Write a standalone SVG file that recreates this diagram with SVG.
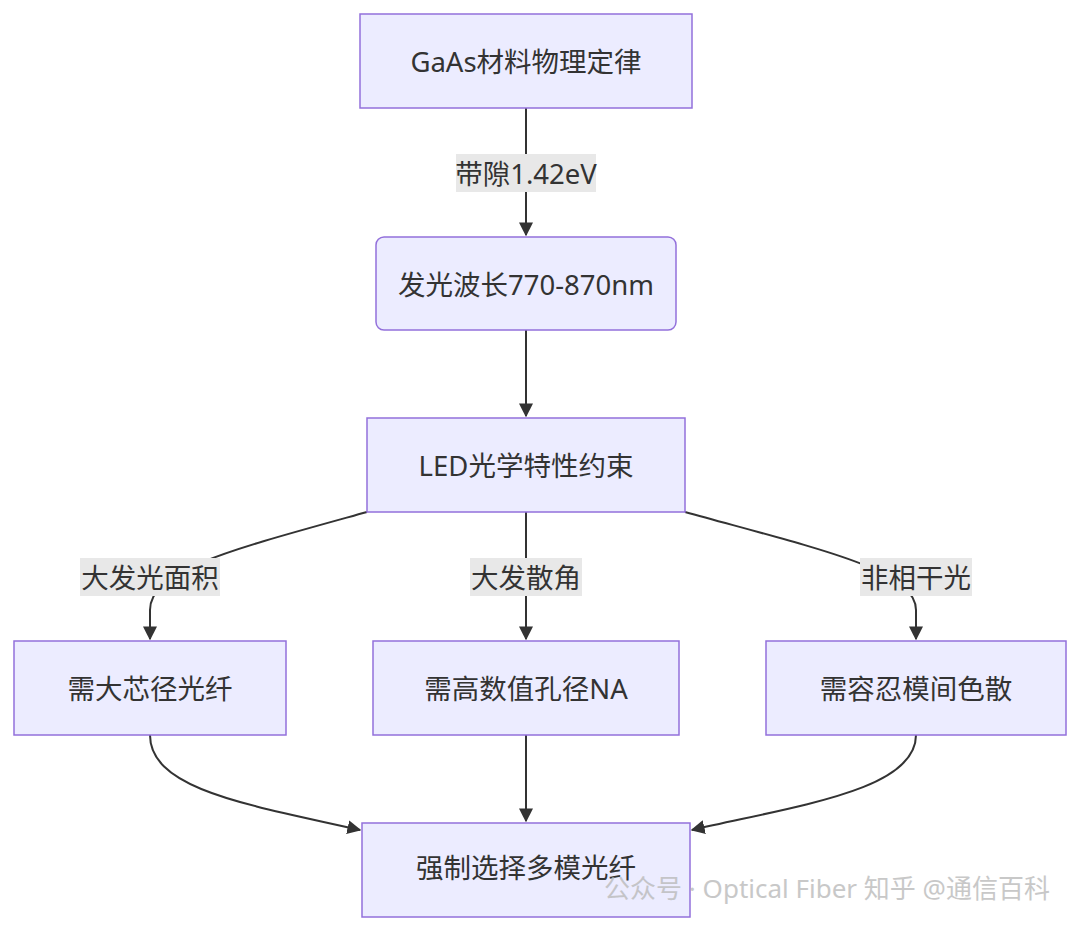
<svg xmlns="http://www.w3.org/2000/svg" width="1080" height="931" viewBox="0 0 1080 931">
<style>
.n{fill:#ECECFF;stroke:#9370DB;stroke-width:1.5}
.t{font-family:"Noto Sans","Noto Sans CJK SC",sans-serif;font-size:27.5px;fill:#333;text-anchor:middle;dominant-baseline:central}
.e{fill:none;stroke:#333;stroke-width:2}
.lb{fill:#e8e8e8}
</style>
<defs><marker id="a" viewBox="0 0 10 10" refX="9" refY="5" markerWidth="7" markerHeight="7" orient="auto"><path d="M0,0L10,5L0,10z" fill="#333"/></marker></defs>
<rect width="1080" height="931" fill="#fff"/>
<g id="edges">
<path class="e" d="M526,108V235" marker-end="url(#a)"/>
<path class="e" d="M526,330V416" marker-end="url(#a)"/>
<path class="e" d="M526,512V639" marker-end="url(#a)"/>
<path class="e" d="M367,512C230,550 150,570 150,610V639" marker-end="url(#a)"/>
<path class="e" d="M685,512C822,550 916,570 916,610V639" marker-end="url(#a)"/>
<path class="e" d="M526,735V821" marker-end="url(#a)"/>
<path class="e" d="M150,735C150,790 250,805 360,830" marker-end="url(#a)"/>
<path class="e" d="M916,735C916,790 800,805 692,830" marker-end="url(#a)"/>
<rect class="lb" x="456" y="154" width="140" height="38"/><text class="t" x="526" y="173">带隙1.42eV</text>
<rect class="lb" x="80" y="558" width="140" height="38"/><text class="t" x="150" y="577">大发光面积</text>
<rect class="lb" x="470" y="558" width="112" height="38"/><text class="t" x="526" y="577">大发散角</text>
<rect class="lb" x="860" y="558" width="112" height="38"/><text class="t" x="916" y="577">非相干光</text>
</g>
<g id="n1"><rect class="n" x="360" y="14" width="332" height="94"/><text class="t" x="526" y="61">GaAs材料物理定律</text></g>
<g id="n2"><rect class="n" x="376" y="237" width="300" height="93" rx="8"/><text class="t" x="526" y="284">发光波长770-870nm</text></g>
<g id="n3"><rect class="n" x="367" y="418" width="318" height="94"/><text class="t" x="526" y="465">LED光学特性约束</text></g>
<g id="n4"><rect class="n" x="14" y="641" width="272" height="94"/><text class="t" x="150" y="688">需大芯径光纤</text></g>
<g id="n5"><rect class="n" x="373" y="641" width="306" height="94"/><text class="t" x="526" y="688">需高数值孔径NA</text></g>
<g id="n6"><rect class="n" x="766" y="641" width="300" height="94"/><text class="t" x="916" y="688">需容忍模间色散</text></g>
<g id="n7"><rect class="n" x="362" y="823" width="328" height="94"/><text class="t" x="526" y="867">强制选择多模光纤</text></g>
<text x="1050" y="888" text-anchor="end" style="font-family:'Noto Sans','Noto Sans CJK SC',sans-serif;font-size:26px;fill:#bbb;opacity:0.8;dominant-baseline:central">公众号 · Optical Fiber 知乎 @通信百科</text>
</svg>
